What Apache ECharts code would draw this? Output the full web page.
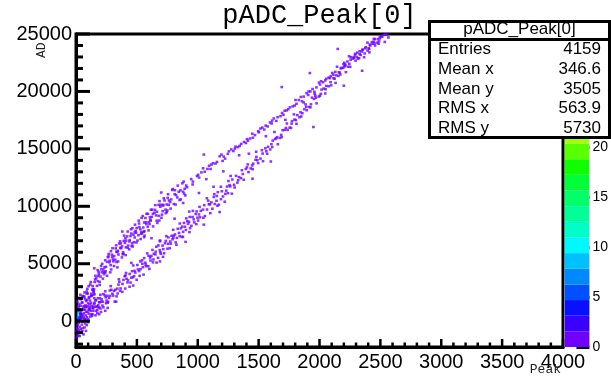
<!DOCTYPE html>
<html>
<head>
<meta charset="utf-8">
<script src="https://cdn.jsdelivr.net/npm/echarts@6/dist/echarts.min.js"></script>
<style>
html,body{margin:0;padding:0;background:#fff;}
#chart{width:611px;height:378px;}
</style>
</head>
<body>
<div id="chart"></div>
<script>
// ---------- DATA ----------
const titleText = 'pADC_Peak[0]';
const xTitle = 'Peak';
const yTitle = 'AD';
const xRange = [0, 4000];
const yRange = [-2250, 25000];
const xMajorTicks = [0, 500, 1000, 1500, 2000, 2500, 3000, 3500, 4000];
const xMinorTicks = [100, 200, 300, 400, 600, 700, 800, 900, 1100, 1200, 1300, 1400, 1600, 1700, 1800, 1900, 2100, 2200, 2300, 2400,
                     2600, 2700, 2800, 2900, 3100, 3200, 3300, 3400, 3600, 3700, 3800, 3900];
const yMajorTicks = [0, 5000, 10000, 15000, 20000, 25000];
const yMinorTicks = [-2000, -1000, 1000, 2000, 3000, 4000, 6000, 7000, 8000, 9000, 11000, 12000, 13000, 14000, 16000, 17000, 18000, 19000, 21000, 22000, 23000, 24000];
const statNames = ['Entries', 'Mean x', 'Mean y', 'RMS x', 'RMS y'];
const statValues = ['4159', '346.6', '3505', '563.9', '5730'];
const zMax = 31.4;
const paletteColors = ['#7000ff','#3a00ff','#0a10ff','#0050ff','#0088ff','#00c0ff','#00f8ff','#00ffc8','#00ff98','#00ff68',
                       '#00ff38','#10ff00','#5aff00','#a0ff00','#dcff00','#ffe400','#ffb000','#ff7800','#ff4000','#ff0000'];

// bins with higher content near the origin [x, y, count]
const hotCells = [[20,150,4],[20,350,7],[20,550,11],[20,750,9],[20,950,5],[36,450,3],[36,650,2],[20,-50,3],[36,250,2]];

const originBlob = [
[5,-1600],[8,-1350],[12,-1100],[6,-900],[18,-1250],[25,-800],[10,-600],[30,-500],[15,-350],[40,-700],[22,-150],[48,-300],
[35,50],[55,-50],[60,250],[45,400],[70,150],[80,500],[65,700],[90,350],[95,800],[75,1000],[105,650],[110,1100],[85,1250],
[120,900],[130,1350],[100,1550],[140,1150],[150,1500],[160,1800],[115,1800],[170,1300],[180,2000],[125,2200],[190,1650],
[200,2300],[60,1000],[40,850],[20,1200],[28,1500],[50,1650],[38,1900],[68,2100],[88,2400],[145,2600],[210,1900],[225,1200],
[165,900],[135,600],[100,200],[75,-200],[55,-600],[42,-1000],[30,-1300],[260,1600],[240,2600],[280,2200],
[15,-700],[33,-950],[52,-850],[70,-550],[88,-350],[18,300],[38,250],[58,550],[78,200],[98,-100],[118,400],[24,900],
[44,600],[63,1300],[83,800],[103,1000],[124,1600],[142,900],[158,1250],[175,700],[92,1850],[108,2100],[12,1700],[36,2300],
[150,2000],[190,1200],[205,800],[220,1700],[62,-1150],[82,-850]
];

const upperBandDense = [
[16,355],[29,1045],[36,665],[22,1335],[32,145],
[38,1330],[51,1590],[58,1000],[44,1960],[63,1210],
[74,1915],[80,1225],[65,2165],[78,1395],[84,1745],
[93,2820],[112,1460],[96,2410],[106,2030],[89,2590],
[127,2195],[135,2735],[117,3185],[125,2385],[139,2805],
[145,2540],[153,3410],[137,3060],[157,3630],[148,2770],
[166,3725],[179,3485],[186,4295],[172,3075],[182,3925],
[188,4090],[201,3880],[208,4510],[194,3420],[213,4260],
[224,4490],[230,4090],[215,4990],[228,4260],[234,4680],
[243,4350],[262,5560],[246,4730],[256,5160],[239,4220],
[277,5270],[285,4880],[267,5640],[275,5120],[289,4500],
[295,5790],[303,5380],[287,6090],[307,5200],[298,5590],
[322,5355],[332,6045],[313,5665],[326,6335],[333,5145],
[344,6130],[363,6390],[349,5800],[355,6760],[340,6010],
[378,6515],[384,5825],[368,6765],[387,5995],[371,6345],
[406,7220],[389,5860],[402,6810],[410,6430],[392,6990],
[425,6395],[439,6935],[420,7385],[428,6585],[412,7005],
[457,6540],[448,7410],[441,7060],[454,7630],[461,6770],
[472,7525],[482,7285],[463,8095],[476,6875],[483,7725],
[494,7690],[513,7480],[499,8110],[505,7020],[490,7860],
[528,8000],[534,7600],[518,8500],[537,7770],[521,8190],
[556,7775],[539,8985],[552,8155],[560,8585],[542,7645],
[575,8610],[589,8220],[570,8980],[578,8460],[562,7840],
[607,9040],[598,8630],[591,9340],[604,8450],[611,8840],
[622,9080],[632,9340],[613,8750],[626,9710],
[658,9210],[644,9440],[663,8750],[649,9690],
[680,9170],[665,9520],[678,10120],[684,8760],
[693,9960],[712,9580],[696,10140],[706,9270],
[714,10060],[727,10510],[735,9710],[717,10130],
[750,9640],[764,10510],[745,10160],[753,10730],
[762,10120],[782,10600],[773,10360],
[791,11420],[804,10200],[811,11050],
[822,10980],[832,10770],[813,11400],
[851,10545],[858,11385],[844,11265],
[888,11100],[874,12000],[880,11270]
];

const upperBandEdge = [
[55,2200],[62,350],[70,2500],[104,3050],[98,1300],[121,3400],[142,2300],[160,3950],[152,2350],[178,4450],[195,3150],
[206,4800],[221,3700],[240,5300],[255,3950],[268,5850],[281,4250],[300,6350],[312,4800],[330,6600],[346,5200],[362,6950],
[377,5550],[395,7450],[408,5750],[425,7800],[437,6250],[452,8000],[466,6500],[485,8400],[497,6850],[515,8750],[531,7150],
[548,9150],[563,7450],[580,9350],[596,7900],[615,9700],[633,8250],[651,10100],[668,8550],[686,10450],[702,9000],[721,10700],
[738,9400],[756,11050],[777,9800],[795,11500],[818,10150],[836,11800],[860,10600],[884,12150],[898,10950]
];

const upperBandSparse = [
[893,11530],[905,11810],[912,11660],[946,12370],[958,11900],
[994,12630],[1003,12740],[1011,12500],[1044,13310],[1057,13010],
[1093,13530],[1105,13250],[1112,13630],[1146,13720],[1158,13860],
[1195,14500],[1204,13950],[1213,14330],[1247,14560],[1256,14780],
[1293,14810],[1305,15020],[1310,15200],[1344,15260],[1357,15430],
[1396,15510],[1405,15850],[1412,15710],[1448,16320],[1453,15970],
[1497,16540],[1502,16440],[1515,16770],[1546,16680],[1558,17020],
[1594,17300],[1607,17210],[1611,17460],[1645,17430],[1656,17760],
[1693,18120],[1704,17960],[1714,18320],[1744,18450],[1757,18620],
[1796,18770],[1803,19250],[1811,18920],[1847,19520],[1856,19140],
[1894,19850],[1907,19690],[1911,20000],[1943,20210],[1958,19970],
[1996,20770],[2004,20600],[2013,20890],[2048,20960],[2055,21110],
[2093,21330],[2105,21610],[2114,21460],[2144,22150],[2159,21670],
[2197,22380],[2204,22490],[2212,22250],[2243,23060],[2256,22760],
[2295,23280],[2307,23000],[2311,23380],[2348,23470],[2353,23610],
[2394,24250],[2408,23700],[2413,24080],[2447,24330],[2455,24560],
[2496,24610],[2508,24820],
[960,12150],[1030,12950],[1080,13250],[1125,13750],[1180,14350],[1225,14150],[1275,14950],[1330,15150],[1380,15600],
[1430,15900],[1470,16200],[1530,16850],[1575,16950],[1625,17650],[1680,17850],[1730,18350],[1780,18700],[1830,19250],
[1870,19550],[1925,20000],[1975,20350],[2030,20800],[2075,21200],[2130,21700],[2180,22050],[2230,22600],[2280,22950],
[2330,23500],[2380,23850],[2430,24300],[2480,24550],[2540,24950]
];

const lowerBandDense = [
[113,1010],[132,460],[116,1210],[126,600],
[139,1120],[152,1600],[160,510],[142,1270],
[180,1200],[194,1650],[175,960],[183,1390],
[197,2000],[217,1360],[208,1690],[201,1100],
[244,2070],[251,1790],[237,2240],[247,1560],
[258,2210],[271,2020],[278,2670],[264,1690],
[313,2640],[299,2390],[305,2220],[290,2730],
[333,2160],[339,2830],[323,2730],[342,2410],
[356,3430],[366,2850],[349,3180],[362,2640],
[400,3910],[382,3240],[390,3590],[404,2840],
[415,3690],[423,3370],[407,3980],[427,3570],
[448,3360],[441,4110],[454,3780],[461,4350],
[477,3920],[487,4230],[468,3820],[481,4380],
[518,4360],[504,4890],[523,3940],[509,4510],
[545,5000],[530,4530],[543,5300],[549,4700],
[569,5090],[575,4780],[560,5490],[573,4920],
[609,5530],[593,4780],[612,5280],[596,5690],
[636,5370],[619,5680],[632,5120],[640,5870],
[652,5810],[660,6480],[674,5510],[655,6050],
[693,6000],[677,6590],[697,5870],[688,6190],
[711,6580],[724,5910],[731,6780],[717,6270],
[757,6740],[738,6990],[751,6310],[758,7290],
[774,6940],[793,7130],[779,6750],[785,7430],
[800,7270],[813,7550],[819,6860],[803,7450],
[852,7400],[836,8040],[846,7680],[829,7250],
[872,8230],[880,7780],[862,8080],[870,7320],
[914,8700],[895,8220],[903,7940],[887,8550],
[937,8100],[928,8650],[921,8470],[934,9070],
[971,8600],[957,9070],[967,8860],[948,8300],
[991,9550],[998,9010],[984,9320],[1003,8760],
[1019,9040],[1025,9600],[1010,9290],
[1053,10100],[1059,9150],[1043,9710],
[1092,10190],[1076,9720],[1086,10490],
[1099,10160],[1112,10340],[1120,9790],
[1132,10810],[1140,10200],[1154,10480],
[1165,11230],[1173,10140],[1157,10900],
[1207,10860],[1198,11310],[1191,10620],
[1234,11360],[1241,11720],[1227,11080],
[1267,11730],[1248,11140],[1261,11840],
[1298,11870],[1284,12330],[1303,11640]
];

const lowerBandEdge = [
[165,1850],[190,600],[225,2350],[260,1150],[285,3050],[318,1700],[352,3650],[380,2550],[411,4200],[440,3000],[470,4850],
[498,3600],[528,5200],[555,4050],[585,5900],[603,4550],[628,6200],[662,5100],[690,6950],[715,5600],[742,7400],[770,6350],
[798,7950],[825,6650],[853,8500],[878,7350],[906,8950],[932,7750],[960,9600],[988,8450],[1015,9950],[1046,9000],
[1075,10700],[1103,9400],[1136,11050],[1162,10050],[1190,11700],[1222,10400],[1252,12200],[1280,11100]
];

const lowerBandSparse = [
[1326,12060],[1339,12540],[1332,12270],[1363,13140],[1378,12310],[1370,12810],
[1404,13390],[1417,12980],[1411,13650],[1447,13550],[1455,13710],[1451,13230],
[1482,14300],[1496,13760],[1490,14010],[1527,14880],[1536,13930],[1533,14590],
[1563,14790],[1577,15180],[1570,14570],[1605,15410],[1616,15720],[1611,15160],
[1644,15920],[1658,15400],[1652,16010],[1685,16220],[1698,16620],[1690,16020],
[1724,16820],[1738,16650],[1732,17210],[1766,16820],[1775,17420],[1771,17200],
[1806,17500],[1818,17940],[1811,17180],[1844,18190],[1859,18100],[1850,17820],
[1886,18870],[1895,18360],[1891,18650],[1925,18620],[1938,19460],[1930,18880],
[1966,19620],[1976,18960],[1971,19450],[2004,19630],[2017,20160],[2011,19790],
[2047,19820],[2056,20480],[2050,20190],[2085,21150],[2096,20530],[2091,20800],
[2124,21110],[2138,21400],[2132,20740],[2166,21630],[2175,22000],[2171,21470],
[2204,22170],[2217,21680],[2211,22340],[2245,22400],[2258,22980],[2252,22140],
[2286,22970],[2296,22680],[2291,23190],[2325,22890],[2338,23170],[2330,23250],
[2366,22980],[2376,23750],[2371,23310],[2404,23770],[2417,23990],[2410,23400],
[2447,24570],[2456,24000],[2452,24170],[2485,24150],[2496,24760],[2490,24360],
[2527,24920],[2536,24310],[2566,24700],
[1315,12650],[1355,12450],[1395,13250],[1435,13300],[1475,14050],[1515,14150],[1555,15050],[1595,14950],[1635,15850],
[1675,15950],[1715,16650],[1755,16850],[1795,17550],[1835,17750],[1875,18450],[1915,18650],[1955,19350],[1995,19550],
[2035,20250],[2075,20450],[2115,21150],[2155,21350],[2195,22050],[2235,22150],[2275,22850],[2315,22850],[2355,23650],
[2395,23550],[2435,24150],[2475,24250],[2515,24750],[2555,24950]
];

const scatteredPoints = [
[340,4680],[455,5070],[560,7310],[620,7220],[690,7030],[745,9500],[810,8920],[880,10290],[930,9540],[1010,11160],
[1070,12360],[1130,11700],[1210,13040],[1270,12640],[1340,14440],[1420,14580],[1480,14750],[1560,16100],[1630,16470],
[1720,17530],[1790,18000],[1870,19040],[1960,19790],
[240,900],[330,1700],[470,3100],[690,5200],[900,6900],[1050,8400],[1180,9500],[1450,12400],[1600,13900],[1950,16900],
[2200,20500],[2350,21800],
[150,4600],[380,7800],[700,11200],[1050,14500],[1690,20380],[1921,21600],[2150,23700]
];

// ---------- BUILD ----------
const zBand = zMax / paletteColors.length;
const colorFor = z => paletteColors[Math.max(0, Math.min(paletteColors.length - 1, Math.floor(z / zBand)))];
const points = [].concat(originBlob, upperBandDense, upperBandEdge, upperBandSparse, lowerBandDense, lowerBandEdge, lowerBandSparse, scatteredPoints)
  .map(p => [p[0], p[1], 1]).concat(hotCells);

const chart = echarts.init(document.getElementById('chart'));
const plain = v => String(v);
const labelFont = {fontFamily: 'Liberation Sans', fontSize: 20, color: '#000'};

// inside tick marks as black bars anchored on the axis values
function tickMarks(values, vertical, len, width) {
  return {
    type: 'scatter', xAxisIndex: 0, yAxisIndex: 0, clip: false, silent: true, z: 6,
    data: values.map(v => vertical ? [v, yRange[0]] : [xRange[0], v]),
    symbol: 'rect',
    symbolSize: vertical ? [width, len] : [len, width],
    symbolOffset: vertical ? [0, -len / 2] : [len / 2, 0],
    itemStyle: {color: '#000', opacity: 1}
  };
}

const paletteSeries = paletteColors.map(c => ({
  type: 'bar', xAxisIndex: 1, yAxisIndex: 1, stack: 'palette', data: [zBand],
  barWidth: '100%', itemStyle: {color: c}, silent: true, z: 1
}));

const statText = [];
statNames.forEach((n, i) => {
  const y = 49.5 + i * 19.7;
  statText.push({type: 'text', z: 101, style: {text: n, x: 438, y: y, textAlign: 'left', textVerticalAlign: 'middle', font: '17px "Liberation Sans"', fill: '#000'}});
  statText.push({type: 'text', z: 101, style: {text: statValues[i], x: 601, y: y, textAlign: 'right', textVerticalAlign: 'middle', font: '17px "Liberation Sans"', fill: '#000'}});
});

chart.setOption({
  animation: false,
  grid: [
    {left: 76, top: 34, width: 487, height: 313, show: true, borderColor: '#000', borderWidth: 3},
    {left: 565, top: 34, width: 27, height: 313}
  ],
  xAxis: [
    {type: 'value', gridIndex: 0, min: xRange[0], max: xRange[1], interval: 500,
     axisLine: {show: true, onZero: false, lineStyle: {color: '#000', width: 3}},
     axisTick: {show: false}, splitLine: {show: false},
     axisLabel: Object.assign({margin: 5, formatter: plain}, labelFont)},
    {type: 'category', gridIndex: 1, data: ['z'], show: false}
  ],
  yAxis: [
    {type: 'value', gridIndex: 0, min: yRange[0], max: yRange[1],
     axisLine: {show: true, onZero: false, lineStyle: {color: '#000', width: 3}},
     axisTick: {show: false}, splitLine: {show: false},
     axisLabel: Object.assign({margin: 4, customValues: yMajorTicks, formatter: plain}, labelFont)},
    {type: 'value', gridIndex: 1, min: 0, max: zMax, interval: 5, position: 'right',
     axisLine: {show: false},
     axisTick: {show: true, inside: true, length: 13, lineStyle: {color: '#000', width: 3}},
     splitLine: {show: false},
     axisLabel: {margin: 3, fontFamily: 'Liberation Sans', fontSize: 14, color: '#000', showMaxLabel: false, formatter: plain}}
  ],
  series: [
    {type: 'scatter', xAxisIndex: 0, yAxisIndex: 0, data: points, symbol: 'rect', symbolSize: [2.7, 2.5],
     itemStyle: {color: p => colorFor(p.value[2])}, progressive: 0, silent: true, clip: true},
    tickMarks(xMajorTicks, true, 8, 2.5),
    tickMarks(xMinorTicks, true, 4.5, 2.5),
    tickMarks(yMajorTicks, false, 14, 3),
    tickMarks(yMinorTicks, false, 7, 3)
  ].concat(paletteSeries),
  graphic: [
    {type: 'text', z: 50, style: {text: titleText, x: 319.5, y: 16, textAlign: 'center', textVerticalAlign: 'middle', font: '27px "Liberation Mono"', fill: '#000'}},
    {type: 'text', z: 50, x: 42, y: 58, rotation: Math.PI / 2, style: {text: yTitle, x: 0, y: 0, textAlign: 'left', textVerticalAlign: 'middle', font: '13px "Liberation Mono"', fill: '#222'}},
    {type: 'text', z: 50, style: {text: xTitle, x: 561, y: 370, textAlign: 'right', textVerticalAlign: 'middle', font: '13px "Liberation Mono"', fill: '#222'}},
    {type: 'rect', z: 100, shape: {x: 429.5, y: 21.5, width: 180, height: 116}, style: {fill: '#fff', stroke: '#000', lineWidth: 3}},
    {type: 'line', z: 101, shape: {x1: 429.5, y1: 39.5, x2: 609.5, y2: 39.5}, style: {stroke: '#000', lineWidth: 3}},
    {type: 'text', z: 101, style: {text: titleText, x: 519.5, y: 29.5, textAlign: 'center', textVerticalAlign: 'middle', font: '17px "Liberation Sans"', fill: '#000'}}
  ].concat(statText)
});
</script>
</body>
</html>
